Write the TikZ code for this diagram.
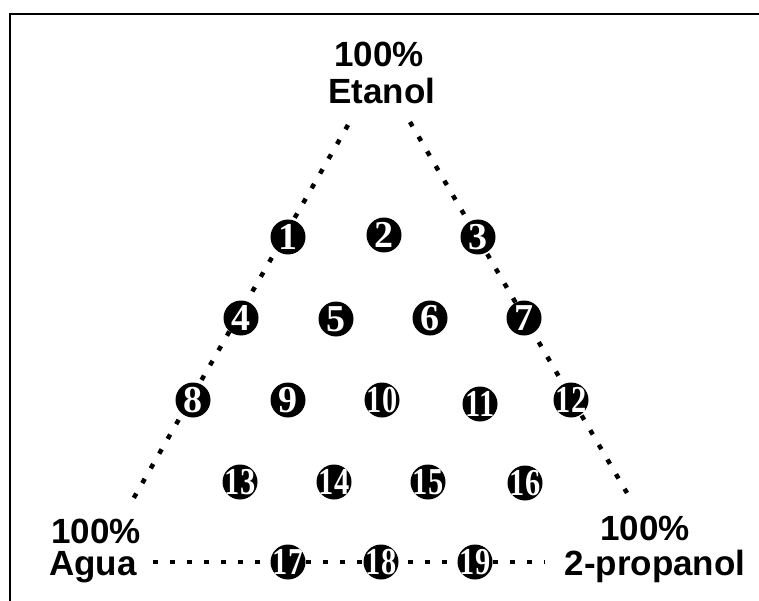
\documentclass[tikz,border=0pt]{standalone}
\usepackage{fontspec}
\usepackage{graphicx}
\setmainfont{Liberation Serif}
\newfontfamily\lblfont{Liberation Sans}
\tikzset{
  lbl/.style={inner sep=0pt, anchor=base, font=\lblfont\bfseries\fontsize{35}{36}\selectfont},
  numtxt/.style={inner sep=0pt, text=white, font=\rmfamily\bfseries\fontsize{38}{40}\selectfont},
  num/.style={circle, fill=black, minimum size=35pt, inner sep=0pt,
    path picture={\node[numtxt] at (path picture bounding box.center) {#1};}},
  dotline/.style={line width=4.5pt, dash pattern=on 5pt off 12pt},
  frame/.style={line width=2pt}
}
\newcommand{\tw}[1]{\scalebox{0.8}[1]{#1}}
\begin{document}
\begin{tikzpicture}[x=1pt,y=-1pt]
\useasboundingbox (0,0) rectangle (759,601);
\draw[frame] (10,601) -- (10,14) -- (759,14);
% labels
\node[lbl] (t1) at (379,67) {100\%};
\node[lbl] (t2) at (382,104) {Etanol};
\node[lbl] (l1) at (96,543) {100\%};
\node[lbl] (l2) at (93,575) {Agua};
\node[lbl] (r1) at (645,540) {100\%};
\node[lbl] (r2) at (655,575) {2-propanol};
% triangle edges
\coordinate (lt) at (348,125);
\coordinate (lb) at (132,501);
\coordinate (rt) at (410,122);
\coordinate (rb) at (627,493);
\coordinate (bl) at (153,562);
\coordinate (br) at (545,562);
\draw[dotline] (lt) -- (lb);
\draw[dotline] (rt) -- (rb);
\draw[dotline] (bl) -- (br);
% numbered points
\node[num=1] (n1) at (288,237) {};
\node[num=2] (n2) at (384,235) {};
\node[num=3] (n3) at (478,237) {};
\node[num=4] (n4) at (241,318) {};
\node[num=5] (n5) at (336,319) {};
\node[num=6] (n6) at (430,318) {};
\node[num=7] (n7) at (524,318) {};
\node[num=8] (n8) at (193,400) {};
\node[num=9] (n9) at (288,400) {};
\node[num=\tw{10}] (n10) at (382,400) {};
\node[num=\tw{11}] (n11) at (480,404) {};
\node[num=\tw{12}] (n12) at (571,400) {};
\node[num=\tw{13}] (n13) at (240,482) {};
\node[num=\tw{14}] (n14) at (334,482) {};
\node[num=\tw{15}] (n15) at (428,482) {};
\node[num=\tw{16}] (n16) at (525,483) {};
\node[num=\tw{17}] (n17) at (288,562) {};
\node[num=\tw{18}] (n18) at (381,562) {};
\node[num=\tw{19}] (n19) at (475,562) {};
\end{tikzpicture}
\end{document}
